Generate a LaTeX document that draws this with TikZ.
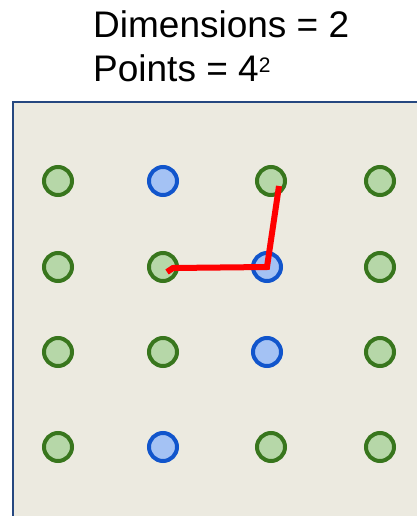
\documentclass[tikz,border=0pt]{standalone}
\usepackage{fontspec}
\setmainfont{Liberation Sans}
\usepackage{tikz}
\usetikzlibrary{positioning}
\definecolor{panelbg}{RGB}{236,234,224}
\definecolor{panelline}{RGB}{38,72,128}
\definecolor{ptgreen}{RGB}{56,118,29}
\definecolor{ptgreenfill}{RGB}{182,215,168}
\definecolor{ptblue}{RGB}{17,85,204}
\definecolor{ptbluefill}{RGB}{164,194,244}

\begin{document}
\begin{tikzpicture}[x=1pt, y=-1pt, every node/.style={font=\fontsize{37}{44}\selectfont}, pt/.style={circle,line width=4pt,minimum size=28pt,inner sep=0pt}, gpt/.style={pt,draw=ptgreen,fill=ptgreenfill}, bpt/.style={pt,draw=ptblue,fill=ptbluefill}, walk/.style={red,line width=6pt}]
\useasboundingbox (0,0) rectangle (417,516);
\fill[panelbg] (13,102) rectangle (420,520);
\draw[panelline,line width=2.5pt] (13,520) -- (13,102) -- (420,102);
\node[anchor=base west,inner sep=0pt] (dim) at (93,38) {Dimensions = 2};
\node[anchor=base west,inner sep=0pt] (pts) at (93,82) {Points = 4\textsuperscript{\fontsize{21}{21}\selectfont 2}};
% row 1
\node[gpt] (p11) at (58,181) {}; \node[bpt] (p12) at (163,181) {}; \node[gpt] (p13) at (271,181) {}; \node[gpt] (p14) at (380,181) {};
% row 2
\node[gpt] (p21) at (58,267) {}; \node[gpt] (p22) at (163,267) {}; \node[bpt] (p23) at (267,267) {}; \node[gpt] (p24) at (380,267) {};
% row 3
\node[gpt] (p31) at (58,352) {}; \node[gpt] (p32) at (163,352) {}; \node[bpt] (p33) at (267,352) {}; \node[gpt] (p34) at (380,352) {};
% row 4
\node[gpt] (p41) at (58,447) {}; \node[bpt] (p42) at (163,447) {}; \node[gpt] (p43) at (271,447) {}; \node[gpt] (p44) at (380,447) {};
\draw[walk] ([shift={(4pt,-5pt)}]p22.center) -- ([shift={(10pt,-1pt)}]p22.center) -- (p23.center) -- ([shift={(8pt,-5pt)}]p13.center);
\end{tikzpicture}
\end{document}
